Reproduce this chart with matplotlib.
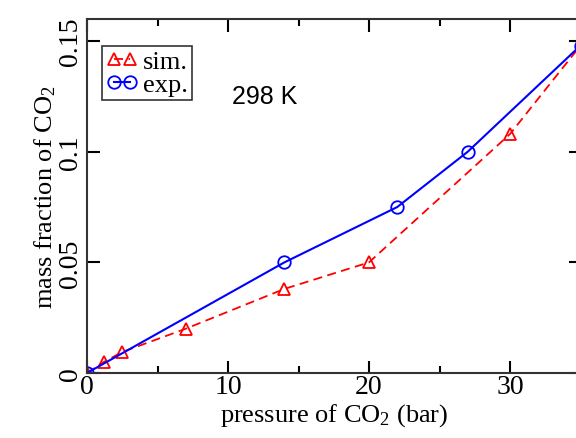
import matplotlib.pyplot as plt
from matplotlib.ticker import MultipleLocator

plt.rcParams['font.family'] = ['Liberation Serif', 'DejaVu Serif']
plt.rcParams['mathtext.fontset'] = 'custom'
plt.rcParams['mathtext.rm'] = 'Liberation Serif'
plt.rcParams['mathtext.it'] = 'Liberation Serif:italic'

# simulation data
sim_p = [0, 1.2, 2.5, 7, 14, 20, 30, 35]
sim_w = [0, 0.005, 0.0095, 0.02, 0.038, 0.05, 0.108, 0.148]

# experimental data
exp_p = [0, 14, 22, 27, 35]
exp_w = [0, 0.05, 0.075, 0.1, 0.148]

fig = plt.figure(figsize=(5.76, 4.39), dpi=100)
ax = fig.add_axes([87/576, 65/439, 493.5/576, 354/439])

ax.plot(sim_p, sim_w, color='red', linestyle='--', dashes=(5, 3), linewidth=1.3,
        marker='^', markersize=8, markerfacecolor='none', markeredgecolor='red',
        markeredgewidth=1.3, label='sim.')
ax.plot(exp_p, exp_w, color='blue', linestyle='-', linewidth=1.5,
        marker='o', markersize=9, markerfacecolor='none', markeredgecolor='blue',
        markeredgewidth=1.3, label='exp.')

ax.set_xlim(0, 35)
ax.set_ylim(0, 0.16)

ax.xaxis.set_minor_locator(MultipleLocator(5))
ax.set_xticks([0, 10, 20, 30])
ax.set_yticks([0, 0.05, 0.1, 0.15])
ax.set_yticklabels(['0', '0.05', '0.1', '0.15'], rotation=90, va='center')

ax.tick_params(which='both', direction='in', top=True, right=True, labelsize=20)
ax.tick_params(which='major', length=9, width=1.5)
ax.tick_params(which='minor', length=5, width=1.5)
ax.tick_params(axis='x', pad=1)
ax.tick_params(axis='y', pad=3)

for s in ax.spines.values():
    s.set_linewidth(1.5)
    s.set_color('#333333')

ax.set_xlabel('pressure of CO$_2$ (bar)', fontsize=19, labelpad=1)
ax.set_ylabel('mass fraction of CO$_2$', fontsize=19, labelpad=0)

leg = ax.legend(loc='upper left', bbox_to_anchor=(0.03, 0.925), numpoints=2,
                fontsize=19, frameon=True, fancybox=False, handlelength=1.2,
                handletextpad=0.2, borderpad=0.15, labelspacing=0.0,
                borderaxespad=0)
leg.get_frame().set_edgecolor('black')
leg.get_frame().set_linewidth(1.2)

# "298 K" placed in figure fraction (measured in pixels from top-left)
fig.text(232 / 576, 1 - 97 / 439, '298 K', fontsize=18,
         family='Liberation Sans', va='center', ha='left')

fig.savefig('out.png', dpi=100)
